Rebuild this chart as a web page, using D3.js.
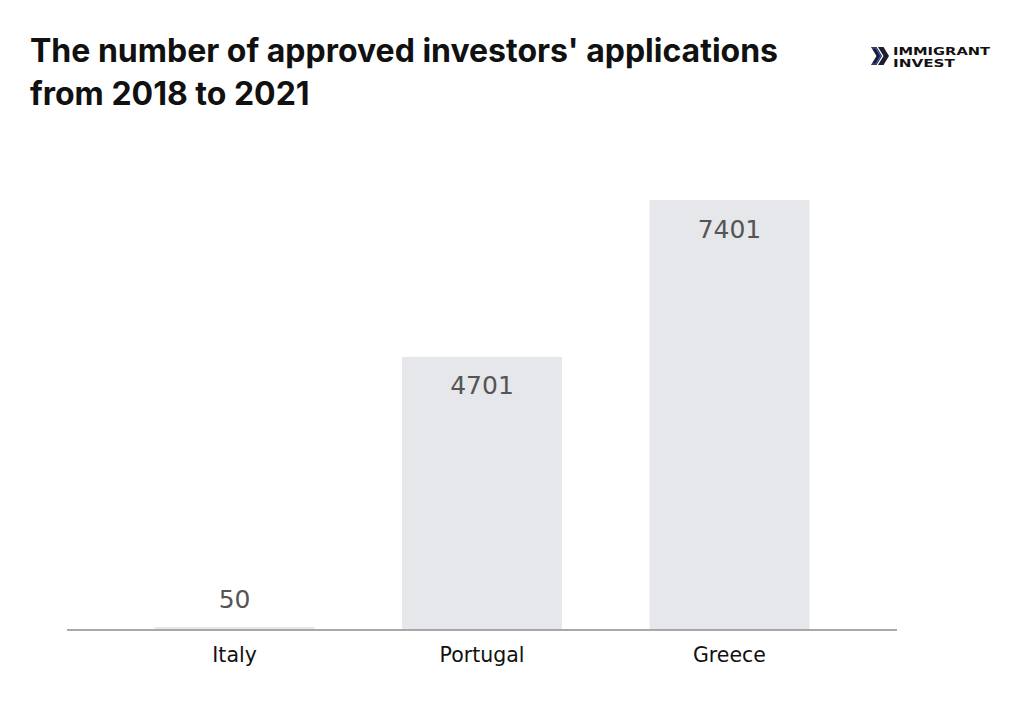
<!DOCTYPE html>
<html><head><meta charset="utf-8">
<script src="https://cdn.jsdelivr.net/npm/d3@7"></script>
<style>
html,body{margin:0;padding:0;background:#fff;}
svg{display:block;}
</style></head>
<body>
<script>
const categories = ["Italy", "Portugal", "Greece"];
const values = [50, 4701, 7401];
const titleLines = ["The number of approved investors' applications", "from 2018 to 2021"];
const logoLines = ["IMMIGRANT", "INVEST"];

const W = 1024, H = 707;
const svg = d3.select("body").append("svg").attr("width", W).attr("height", H);

const x = d3.scaleBand().domain(categories).range([67, 897]).paddingInner(0.354).paddingOuter(0.354);
const y = d3.scaleLinear().domain([0, 7401]).range([630, 200]);

// title
svg.append("g").selectAll("text").data(titleLines).join("text")
  .attr("x", 30).attr("y", (d, i) => 62 + i * 43)
  .attr("font-family", "Inter, 'Open Sans', sans-serif")
  .attr("font-weight", 700).attr("font-size", 32)
  .attr("fill", "#111").text(d => d);

// logo
const logo = svg.append("g").attr("transform", "translate(871,47)");
logo.append("path").attr("d", "M0,0 L5.5,0 L11,9 L5.5,18 L0,18 L5.5,9 Z").attr("fill", "#1a1d2e");
logo.append("path").attr("d", "M7,0 L12.5,0 L18,9 L12.5,18 L7,18 L12.5,9 Z").attr("fill", "#1a1d2e");
logo.append("path").attr("d", "M1,1 L4.8,1 L9.6,9 L4.8,17 L1,17").attr("fill", "none").attr("stroke", "#3b5bb5").attr("stroke-width", 1.2);
logo.selectAll("text").data(logoLines).join("text")
  .attr("x", 22).attr("y", (d, i) => 8 + i * 12)
  .attr("font-family", "'DejaVu Sans', sans-serif").attr("font-weight", 700)
  .attr("font-size", 11).attr("fill", "#111")
  .attr("textLength", (d, i) => i === 0 ? 97 : 62).attr("lengthAdjust", "spacingAndGlyphs")
  .text(d => d);

// bars
svg.append("g").selectAll("rect").data(values).join("rect")
  .attr("x", (d, i) => x(categories[i]))
  .attr("width", x.bandwidth())
  .attr("y", d => y(d))
  .attr("height", d => y(0) - y(d))
  .attr("fill", "#e6e7ea");

// value labels
svg.append("g").selectAll("text").data(values).join("text")
  .attr("x", (d, i) => x(categories[i]) + x.bandwidth() / 2)
  .attr("y", d => (y(0) - y(d) > 40) ? y(d) + 37.5 : y(d) - 19)
  .attr("text-anchor", "middle")
  .attr("font-family", "Verdana, 'DejaVu Sans', sans-serif")
  .attr("font-size", 25).attr("fill", "#555")
  .text(d => d);

// axis
const ax = svg.append("g").attr("transform", "translate(0,630)")
  .call(d3.axisBottom(x).tickSize(0).tickPadding(17));
ax.select(".domain").attr("stroke", "#a8a8a8").attr("stroke-width", 2).attr("d", "M67,0H897");
ax.selectAll(".tick text")
  .attr("font-family", "Verdana, 'DejaVu Sans', sans-serif")
  .attr("font-size", 20.5).attr("fill", "#111");
</script>
</body></html>
